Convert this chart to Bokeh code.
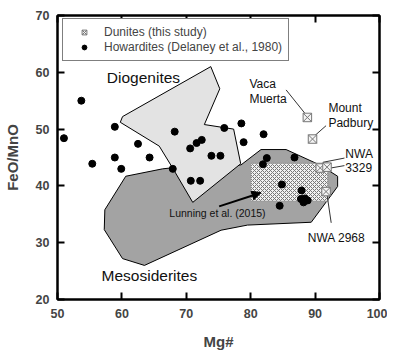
from bokeh.plotting import figure
from bokeh.models import Range1d, LinearAxis, CustomJSTickFormatter, Arrow, NormalHead, Legend, LegendItem, FixedTicker
from bokeh.core.properties import value
from bokeh.embed import file_html
from bokeh.resources import INLINE

# ---- data ----
how_x = [51.0, 53.7, 58.9, 68.2, 62.5, 55.4, 58.9, 64.3, 59.9, 67.9, 75.9, 78.55, 82.0, 78.9, 72.4,
         71.6, 70.6, 73.9, 75.3, 82.5, 81.9, 86.8, 70.7, 72.15, 84.85, 87.9, 87.8, 88.2, 88.85, 88.4, 84.5]
how_y = [48.4, 55.0, 50.4, 49.55, 47.4, 43.9, 45.0, 45.0, 43.0, 43.0, 50.2, 51.0, 49.1, 47.7, 48.1,
         47.55, 46.6, 45.3, 45.3, 44.9, 43.8, 45.0, 40.9, 40.9, 40.25, 39.2, 37.7, 37.1, 37.45, 37.8, 36.5]

dun_x = [88.8, 89.6, 90.8, 91.85, 91.7]
dun_y = [52.05, 48.25, 43.15, 43.3, 39.0]

meso_x = [57.35, 57.26, 60.1, 63.5, 75.4, 79.5, 89.4, 93.5, 93.5, 90.7, 85.5, 81.6, 78.5, 67.9, 66.3, 60.6]
meso_y = [35.8, 32.3, 27.2, 26.0, 32.2, 33.1, 33.6, 39.9, 41.7, 43.7, 46.4, 46.4, 43.7, 43.2, 43.0, 41.7]

dio_x = [60.1, 73.8, 75.2, 72.8, 77.35, 78.45, 71.0, 67.8, 65.8, 59.75]
dio_y = [52.2, 61.0, 57.1, 50.8, 50.0, 43.9, 37.1, 43.3, 47.0, 51.2]

lunning_box = dict(left=80, right=92, bottom=37.3, top=44)
lunning_arrow = dict(x_start=75.1, y_start=36.4, x_end=81.6, y_end=38.8)

big_labels = ["Diogenites", "Mesosiderites"]
big_x = [57.66, 56.84]
big_y = [59.0, 24.3]

small_labels = ["Vaca", "Muerta", "Mount", "Padbury", "NWA", "3329", "NWA 2968"]
small_x = [79.8, 79.8, 92.07, 92.07, 94.7, 94.7, 88.86]
small_y = [57.9, 55.3, 53.7, 51.1, 45.7, 43.2, 30.85]

lead_x0 = [85.5, 91.7, 91.2, 92.48, 92.5]
lead_y0 = [56.9, 50.6, 44.15, 43.16, 33.5]
lead_x1 = [88.4, 89.9, 94.56, 94.56, 91.85]
lead_y1 = [52.8, 48.8, 44.9, 43.57, 38.5]

ticks = [50, 60, 70, 80, 90, 100]
yticks = [20, 30, 40, 50, 60, 70]

FONT = "Liberation Sans"

p = figure(frame_width=322, frame_height=284, output_backend="svg", toolbar_location=None,
           x_range=Range1d(50, 100), y_range=Range1d(20, 70),
           min_border_left=55, min_border_right=8, min_border_top=15, min_border_bottom=40)
p.background_fill_color = "white"
p.border_fill_color = "white"
p.outline_line_color = "black"
p.outline_line_width = 2
p.xgrid.visible = False
p.ygrid.visible = False

for ax, tk in ((p.xaxis[0], ticks), (p.yaxis[0], yticks)):
    ax.ticker = FixedTicker(ticks=tk)
    ax.major_tick_in = 7
    ax.major_tick_out = 0
    ax.minor_tick_line_color = None
    ax.axis_line_width = 2
    ax.major_tick_line_width = 2
    ax.major_label_text_font = FONT
    ax.major_label_text_font_style = "bold"
    ax.major_label_text_font_size = "12.5px"
    ax.axis_label_text_font = FONT
    ax.axis_label_text_font_style = "bold"
    ax.axis_label_text_font_size = "15px"

p.xaxis[0].axis_label = "Mg#"
p.yaxis[0].axis_label = "FeO/MnO"
p.xaxis[0].major_label_standoff = 9
p.xaxis[0].axis_label_standoff = 12
p.yaxis[0].major_label_standoff = 8
p.yaxis[0].axis_label_standoff = 12

for loc, tk in (("above", ticks), ("right", yticks)):
    a = LinearAxis(ticker=FixedTicker(ticks=tk),
                   formatter=CustomJSTickFormatter(code="return ''"),
                   major_tick_in=7, major_tick_out=0, minor_tick_line_color=None,
                   axis_line_width=2, major_tick_line_width=2, major_label_standoff=0,
                   major_label_text_font_size="1px")
    p.add_layout(a, loc)

# regions
p.patch(meso_x, meso_y, fill_color="#a3a3a3", line_color="black", line_width=1)
p.quad(**lunning_box, fill_color="#f2f2f2", hatch_pattern="x", hatch_scale=4,
       hatch_color="#777777", hatch_weight=1, line_color="#999999", line_width=1)
p.patch(dio_x, dio_y, fill_color="#e3e3e3", line_color="black", line_width=1)

p.add_layout(Arrow(end=NormalHead(size=9, fill_color="black", line_color="black"),
                   line_color="black", line_width=2, **lunning_arrow))

p.segment(lead_x0, lead_y0, lead_x1, lead_y1, line_color="#333333", line_width=1)

r_how = p.scatter(how_x, how_y, marker="circle", size=7, fill_color="black", line_color="black")
r_dun = p.scatter(dun_x, dun_y, marker="square_x", size=8.5, fill_color="#f4f4f4",
                  line_color="#777777", line_width=1)

p.text(big_x, big_y, text=big_labels, text_font=value(FONT), text_font_size="15.5px",
       text_baseline="middle", text_align="left", text_color="#111111")
p.text(small_x, small_y, text=small_labels, text_font=value(FONT), text_font_size="12px",
       text_baseline="middle", text_align="left", text_color="#111111")
p.text([67.36], [35.25], text=["Lunning et al. (2015)"], text_font=value(FONT),
       text_font_size="10.5px", text_baseline="middle", text_align="left", text_color="#111111")

legend = Legend(items=[LegendItem(label="Dunites (this study)", renderers=[r_dun]),
                       LegendItem(label="Howardites (Delaney et al., 1980)", renderers=[r_how])],
                location=(5, 238), padding=6, spacing=1, margin=0,
                glyph_width=30, glyph_height=12, label_height=12, label_standoff=5,
                label_text_font=FONT, label_text_font_size="12px",
                border_line_color="black", border_line_width=1, background_fill_alpha=1)
p.add_layout(legend, "center")

open("out.html", "w").write(file_html(p, INLINE))
